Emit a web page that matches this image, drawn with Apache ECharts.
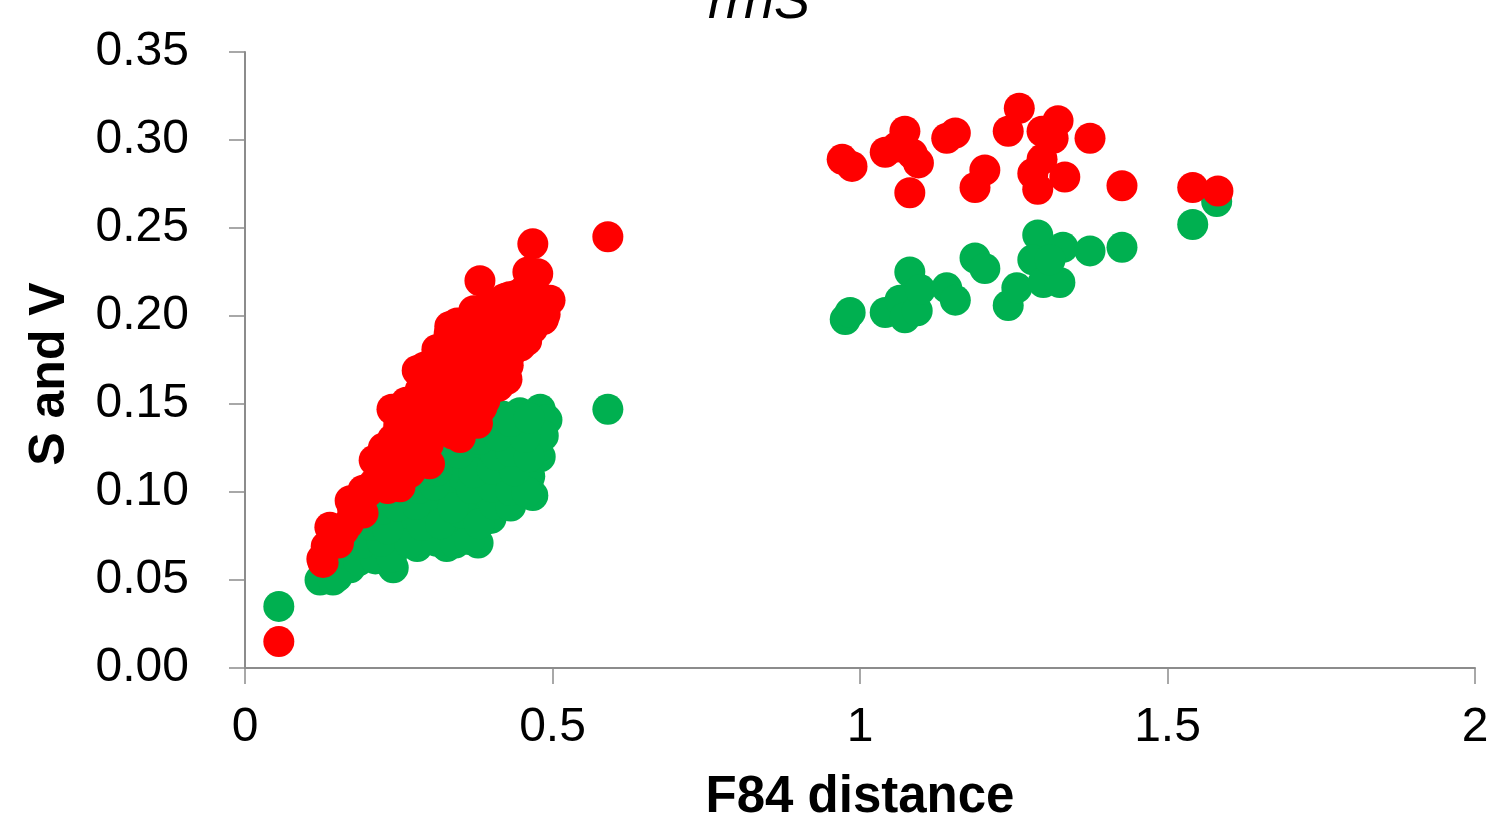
<!DOCTYPE html>
<html>
<head>
<meta charset="utf-8">
<script src="https://cdn.jsdelivr.net/npm/echarts@6/dist/echarts.min.js"></script>
<style>
html,body{margin:0;padding:0;background:#fff;}
#chart{width:1495px;height:828px;}
</style>
</head>
<body>
<div id="chart"></div>
<script>
// Chart title and axis names
var titleText = "rrnS";
var xAxisName = "F84 distance";
var yAxisName = "S and V";

// Tick values
var xTicks = [0, 0.5, 1, 1.5, 2];
var yTicks = [0, 0.05, 0.10, 0.15, 0.20, 0.25, 0.30, 0.35];

// Green series (x = F84 distance, y = value)
var greenPoints = [
  [0.055,0.035],
  [0.122,0.050],[0.143,0.050],[0.150,0.052],[0.171,0.057],[0.160,0.065],[0.180,0.070],
  [0.200,0.075],[0.220,0.080],[0.241,0.057],[0.250,0.070],[0.260,0.085],[0.280,0.069],
  [0.290,0.090],[0.300,0.075],[0.310,0.095],[0.328,0.069],[0.330,0.100],[0.350,0.078],
  [0.350,0.110],[0.370,0.090],[0.379,0.071],[0.380,0.120],[0.390,0.100],[0.400,0.085],
  [0.410,0.125],[0.420,0.110],[0.420,0.143],[0.430,0.097],[0.440,0.135],[0.447,0.145],
  [0.450,0.120],[0.460,0.105],[0.463,0.109],[0.468,0.098],[0.470,0.130],[0.475,0.122],
  [0.480,0.147],[0.480,0.120],[0.491,0.141],[0.485,0.132],
  [0.185,0.061],[0.212,0.062],[0.238,0.063],
  [0.192,0.071],[0.222,0.072],[0.268,0.071],[0.312,0.072],[0.342,0.071],[0.365,0.073],
  [0.205,0.081],[0.232,0.079],[0.288,0.081],[0.318,0.082],[0.352,0.088],[0.381,0.082],
  [0.222,0.090],[0.248,0.092],[0.278,0.093],[0.338,0.091],[0.405,0.093],[0.432,0.092],
  [0.252,0.101],[0.282,0.102],[0.308,0.104],[0.368,0.102],[0.402,0.103],[0.432,0.101],[0.458,0.100],
  [0.285,0.111],[0.312,0.112],[0.372,0.111],[0.402,0.113],[0.438,0.112],
  [0.318,0.121],[0.348,0.122],[0.408,0.121],[0.432,0.123],[0.462,0.120],
  [0.352,0.131],[0.382,0.130],[0.412,0.132],[0.455,0.131],
  [0.402,0.141],[0.432,0.140],[0.462,0.142],
  [0.590,0.147],
  [0.976,0.198],[0.984,0.202],[1.041,0.202],[1.081,0.225],[1.065,0.209],[1.073,0.199],
  [1.093,0.203],[1.098,0.215],[1.141,0.216],[1.155,0.209],[1.187,0.233],[1.203,0.227],
  [1.241,0.206],[1.255,0.216],[1.289,0.246],[1.281,0.232],[1.298,0.219],[1.325,0.219],
  [1.330,0.239],[1.309,0.232],[1.374,0.237],[1.426,0.239],[1.541,0.252],[1.580,0.265]
];

// Red series
var redPoints = [
  [0.055,0.015],
  [0.127,0.060],[0.125,0.062],[0.138,0.080],[0.140,0.072],[0.150,0.078],[0.160,0.078],
  [0.171,0.095],[0.175,0.090],[0.192,0.088],[0.200,0.100],[0.210,0.105],[0.220,0.110],
  [0.210,0.118],[0.225,0.125],[0.235,0.120],[0.239,0.147],[0.240,0.130],[0.250,0.138],
  [0.252,0.103],[0.260,0.135],[0.270,0.150],[0.270,0.125],[0.280,0.169],[0.280,0.140],
  [0.285,0.158],[0.300,0.116],[0.300,0.165],[0.300,0.150],[0.310,0.140],[0.315,0.172],
  [0.320,0.155],[0.320,0.135],[0.333,0.194],[0.330,0.162],[0.345,0.196],[0.340,0.148],
  [0.350,0.131],[0.350,0.170],[0.355,0.155],[0.360,0.185],[0.365,0.165],[0.370,0.200],
  [0.370,0.145],[0.382,0.220],[0.380,0.175],[0.385,0.148],[0.390,0.190],[0.390,0.160],
  [0.398,0.207],[0.400,0.180],[0.410,0.170],[0.426,0.164],[0.430,0.211],[0.420,0.190],
  [0.440,0.195],[0.450,0.205],[0.455,0.215],[0.458,0.186],[0.460,0.225],[0.468,0.241],
  [0.470,0.210],[0.475,0.200],[0.490,0.207],[0.496,0.209],[0.485,0.198],
  [0.132,0.069],[0.152,0.071],[0.168,0.082],[0.185,0.093],
  [0.192,0.101],[0.232,0.102],[0.232,0.111],[0.252,0.112],[0.268,0.111],
  [0.248,0.121],[0.282,0.122],[0.298,0.127],[0.262,0.129],[0.292,0.131],[0.338,0.133],
  [0.268,0.141],[0.298,0.139],[0.332,0.141],[0.358,0.142],[0.378,0.139],
  [0.262,0.151],[0.322,0.149],[0.348,0.152],[0.375,0.153],[0.390,0.152],
  [0.302,0.159],[0.332,0.158],[0.362,0.161],[0.388,0.162],[0.412,0.160],
  [0.292,0.171],[0.342,0.171],[0.372,0.169],[0.402,0.171],[0.428,0.172],
  [0.312,0.181],[0.342,0.182],[0.372,0.181],[0.412,0.182],[0.432,0.179],[0.448,0.183],
  [0.332,0.190],[0.362,0.192],[0.392,0.198],[0.418,0.199],[0.452,0.192],[0.468,0.193],
  [0.372,0.203],[0.412,0.202],[0.438,0.205],[0.462,0.201],[0.488,0.201],
  [0.422,0.210],[0.442,0.212],[0.472,0.213],[0.465,0.222],[0.476,0.224],
  [0.590,0.245],
  [0.971,0.289],[0.987,0.285],[1.041,0.293],[1.073,0.305],[1.060,0.296],[1.085,0.292],
  [1.095,0.287],[1.081,0.270],[1.141,0.301],[1.155,0.304],[1.187,0.273],[1.203,0.283],
  [1.241,0.305],[1.259,0.318],[1.296,0.305],[1.322,0.311],[1.314,0.301],[1.281,0.281],
  [1.296,0.289],[1.289,0.272],[1.333,0.279],[1.374,0.301],[1.426,0.274],[1.541,0.273],
  [1.582,0.271]
];

var chart = echarts.init(document.getElementById('chart'), null, {renderer:'canvas'});
var axisGrey = '#8c8c8c';
var font = 'Liberation Sans, Arial, sans-serif';

chart.setOption({
  backgroundColor: '#ffffff',
  animation: false,
  title: {
    text: titleText,
    left: 703,
    top: -29,
    textStyle: {fontFamily: font, fontSize: 54, fontStyle: 'italic', fontWeight: 'normal', color: '#000'}
  },
  grid: {left: 245, right: 20, top: 52, bottom: 160, containLabel: false},
  xAxis: {
    type: 'value',
    min: xTicks[0], max: xTicks[xTicks.length-1], interval: 0.5,
    name: xAxisName,
    nameLocation: 'middle',
    nameGap: 104,
    nameTextStyle: {fontFamily: font, fontSize: 51, fontWeight: 'bold', color: '#000'},
    axisLine: {show: true, lineStyle: {color: axisGrey, width: 2}},
    axisTick: {show: true, length: 16, lineStyle: {color: axisGrey, width: 1.5}},
    axisLabel: {fontFamily: font, fontSize: 48, color: '#000', margin: 36,
      formatter: function(v){ return String(v); }},
    splitLine: {show: false}
  },
  yAxis: {
    type: 'value',
    min: yTicks[0], max: yTicks[yTicks.length-1], interval: 0.05,
    name: yAxisName,
    nameLocation: 'middle',
    nameGap: 170,
    nameTextStyle: {fontFamily: font, fontSize: 50, fontWeight: 'bold', color: '#000', padding: [0, 28, 0, 0]},
    axisLine: {show: true, lineStyle: {color: axisGrey, width: 2}},
    axisTick: {show: true, length: 16, lineStyle: {color: axisGrey, width: 1.5}},
    axisLabel: {fontFamily: font, fontSize: 48, color: '#000', margin: 56,
      formatter: function(v){ return v.toFixed(2); }},
    splitLine: {show: false}
  },
  series: [
    {type: 'scatter', name: 'V', data: greenPoints, symbol: 'circle', symbolSize: 31,
     itemStyle: {color: '#00B050', opacity: 1}},
    {type: 'scatter', name: 'S', data: redPoints, symbol: 'circle', symbolSize: 31,
     itemStyle: {color: '#FF0000', opacity: 1}}
  ]
});
</script>
</body>
</html>
